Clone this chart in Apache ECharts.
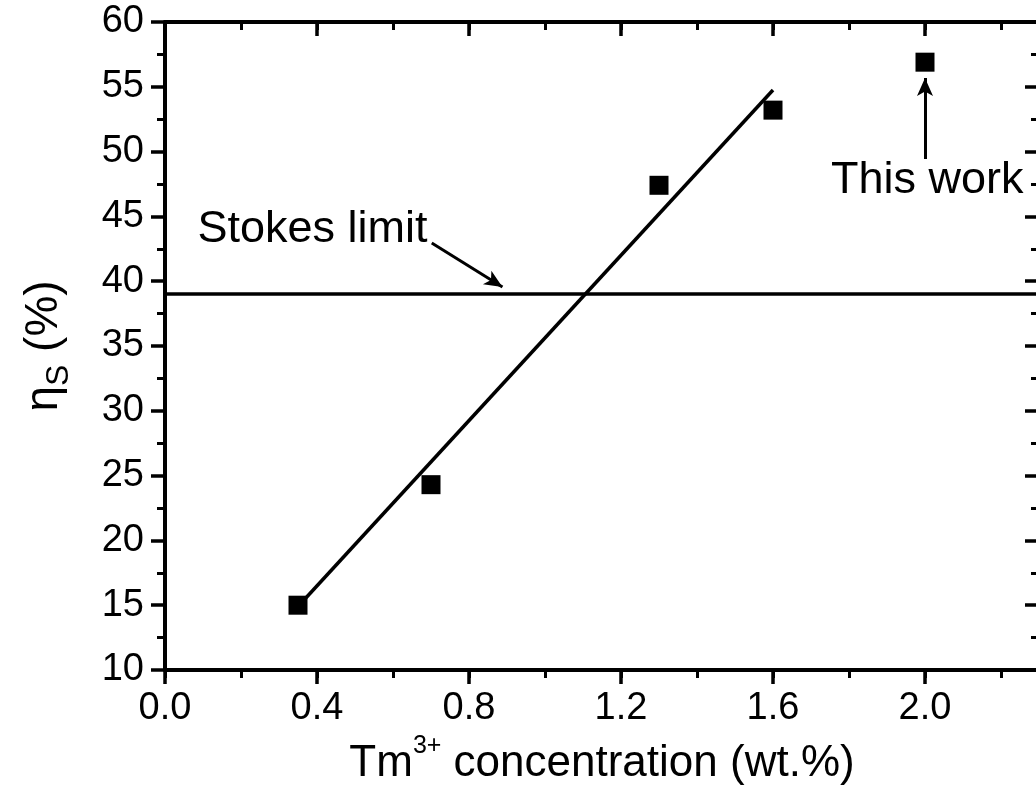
<!DOCTYPE html>
<html>
<head>
<meta charset="utf-8">
<script src="https://cdn.jsdelivr.net/npm/echarts@6/dist/echarts.min.js"></script>
<style>html,body{margin:0;padding:0;background:#fff;}#c{width:1036px;height:787px;}</style>
</head>
<body>
<div id="c"></div>
<script>
// ---- data ----
const concentration = [0.35, 0.70, 1.30, 1.60, 2.00];   // Tm3+ wt.%
const efficiency    = [15.0, 24.3, 47.4, 53.2, 56.9];   // eta_S (%)
const fitLine       = [[0.35, 14.9], [1.60, 54.75]];     // linear fit endpoints
const stokesLimit   = 39;
const xRange = [0, 2.3], xStep = 0.4, xMinorStep = 0.2;
const yRange = [10, 60], yStep = 5;
const annotTexts  = ['Stokes limit', 'This work'];
const annotPos    = [[0.388, 44.0], [2.006, 47.8]];
const arrowFrom   = [[0.702, 42.95], [2.0, 49.43]];
const arrowTo     = [[0.888, 39.55], [2.0, 55.68]];

const FONT = 'Liberation Sans, Arial, Helvetica, sans-serif';
const BLACK = '#000';
const gridRect = {left: 165, top: 22, width: 874, height: 648, containLabel: false, outerBoundsMode: 'none'};

const chart = echarts.init(document.getElementById('c'), null, {renderer: 'canvas'});

function baseX(extra) {
  return Object.assign({
    type: 'value', min: xRange[0], max: xRange[1],
    splitLine: {show: false},
    axisLine: {show: true, onZero: false, lineStyle: {color: BLACK, width: 4}},
    axisLabel: {show: false},
    axisTick: {show: true, lineStyle: {color: BLACK, width: 3.5}}
  }, extra);
}
function baseY(extra) {
  return Object.assign({
    type: 'value', min: yRange[0], max: yRange[1], interval: yStep,
    splitLine: {show: false},
    axisLine: {show: true, onZero: false, lineStyle: {color: BLACK, width: 4}},
    axisLabel: {show: false},
    axisTick: {show: true, lineStyle: {color: BLACK, width: 3.5}}
  }, extra);
}

const option = {
  animation: false,
  backgroundColor: '#fff',
  grid: [Object.assign({}, gridRect), Object.assign({}, gridRect)],
  xAxis: [
    baseX({
      gridIndex: 0, position: 'bottom', interval: xStep,
      axisTick: {show: true, inside: false, length: 14, lineStyle: {color: BLACK, width: 3.5}},
      axisLabel: {show: true, showMaxLabel: false, margin: 20, color: BLACK, fontSize: 38, fontFamily: FONT,
        formatter: v => v.toFixed(1)},
      name: '{m|Tm}{s|3+}{m| concentration (wt.%)}',
      nameLocation: 'middle', nameGap: 64,
      nameTextStyle: {
        rich: {
          m: {fontSize: 44, fontFamily: FONT, color: BLACK, lineHeight: 52, verticalAlign: 'bottom'},
          s: {fontSize: 25, fontFamily: FONT, color: BLACK, lineHeight: 25, verticalAlign: 'top'}
        }
      }
    }),
    baseX({
      gridIndex: 0, position: 'top', interval: xStep,
      axisTick: {show: true, inside: true, length: 14, lineStyle: {color: BLACK, width: 3.5}}
    }),
    baseX({
      gridIndex: 1, position: 'bottom', interval: xMinorStep,
      axisLine: {show: false},
      axisTick: {show: true, inside: false, length: 8, lineStyle: {color: BLACK, width: 3}}
    }),
    baseX({
      gridIndex: 1, position: 'top', interval: xMinorStep,
      axisLine: {show: false},
      axisTick: {show: true, inside: true, length: 8, lineStyle: {color: BLACK, width: 3}}
    })
  ],
  yAxis: [
    baseY({
      gridIndex: 0, position: 'left',
      axisTick: {show: true, inside: false, length: 14, lineStyle: {color: BLACK, width: 3.5}},
      minorTick: {show: true, splitNumber: 2, length: 8, lineStyle: {color: BLACK, width: 3}},
      axisLabel: {show: true, margin: 21, color: BLACK, fontSize: 38, fontFamily: FONT},
      name: '{a|η}{b|S}{a| (%)}',
      nameLocation: 'middle', nameGap: 90,
      nameTextStyle: {
        rich: {
          a: {fontSize: 46, fontFamily: FONT, color: BLACK, lineHeight: 54, verticalAlign: 'top'},
          b: {fontSize: 32, fontFamily: FONT, color: BLACK, lineHeight: 32, verticalAlign: 'bottom', padding: [44, 0, 0, 0]}
        }
      }
    }),
    baseY({
      gridIndex: 0, position: 'right',
      axisTick: {show: true, inside: true, length: 14, lineStyle: {color: BLACK, width: 3.5}},
      minorTick: {show: true, splitNumber: 2, length: 8, lineStyle: {color: BLACK, width: 3}}
    }),
    baseY({gridIndex: 1, show: false})
  ],
  series: [
    {
      name: 'fit', type: 'line', xAxisIndex: 0, yAxisIndex: 0,
      data: fitLine, symbol: 'none', silent: true,
      lineStyle: {color: BLACK, width: 3.5}, z: 2,
      markLine: {
        silent: true, symbol: 'none', label: {show: false},
        lineStyle: {color: BLACK, width: 3.5, type: 'solid'},
        data: [{yAxis: stokesLimit}]
      }
    },
    {
      name: 'arrows', type: 'line', xAxisIndex: 0, yAxisIndex: 0, data: [], silent: true,
      markLine: {
        silent: true, symbol: ['none', 'arrow'], symbolSize: [12, 18], label: {show: false},
        lineStyle: {color: BLACK, width: 3, type: 'solid'},
        data: arrowFrom.map((p, i) => [{coord: p}, {coord: arrowTo[i]}])
      }
    },
    {
      name: 'samples', type: 'scatter', xAxisIndex: 0, yAxisIndex: 0,
      symbol: 'rect', symbolSize: 19, itemStyle: {color: BLACK, opacity: 1}, z: 3,
      data: concentration.map((x, i) => [x, efficiency[i]])
    },
    {
      name: 'labels', type: 'scatter', xAxisIndex: 0, yAxisIndex: 0, silent: true,
      symbolSize: 1, itemStyle: {color: 'rgba(0,0,0,0)', opacity: 1},
      data: annotPos.map((p, i) => ({value: p, name: annotTexts[i]})),
      label: {show: true, position: 'inside', formatter: p => p.name,
        color: BLACK, opacity: 1, fontSize: 45, fontFamily: FONT}
    }
  ]
};
chart.setOption(option);
</script>
</body>
</html>
